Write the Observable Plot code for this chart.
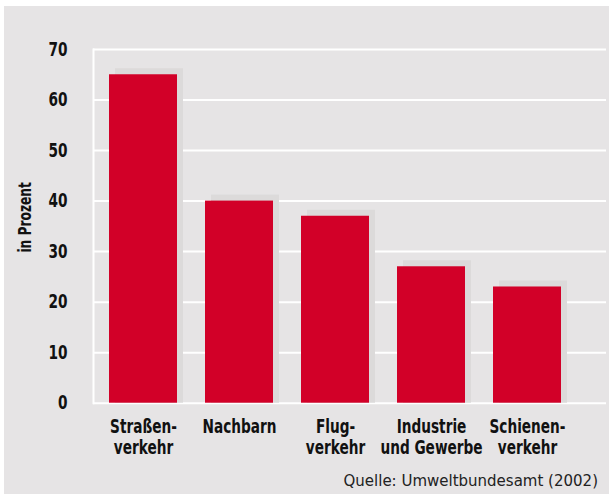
<!DOCTYPE html>
<html>
<head>
<meta charset="utf-8">
<script src="https://cdn.jsdelivr.net/npm/d3@7"></script>
<script src="https://cdn.jsdelivr.net/npm/@observablehq/plot@0.6"></script>
<style>
  body { margin: 0; background: #ffffff; }
  #panel { position: absolute; left: 4px; top: 6px; width: 605px; height: 488px; background: #e6e4e5; overflow: hidden; }
  #caption { position: absolute; right: 11px; top: 466px; font-family: "DejaVu Sans", sans-serif; font-size: 15px; color: #222; }
</style>
</head>
<body>
<div id="panel"><div id="chart"></div><div id="caption"></div></div>
<script>
const categories = ["Straßen-\nverkehr", "Nachbarn", "Flug-\nverkehr", "Industrie\nund Gewerbe", "Schienen-\nverkehr"];
const values = [65, 40, 37, 27, 23];
const yTicks = [0, 10, 20, 30, 40, 50, 60, 70];
const yLabel = "in Prozent";
const caption = "Quelle: Umweltbundesamt (2002)";

const data = categories.map((c, i) => ({category: c, value: values[i]}));
const font = "'Liberation Sans Narrow', 'DejaVu Sans Condensed', sans-serif";

const chart = Plot.plot({
  width: 605,
  height: 470,
  marginLeft: 89,
  marginRight: 3,
  marginTop: 43,
  marginBottom: 73.3,
  style: {background: "transparent", fontFamily: font, color: "#111"},
  x: {domain: categories, range: [75.5, 586.5], padding: 0.295, axis: null},
  y: {domain: [0, 70], axis: null},
  marks: [
    Plot.ruleY(yTicks, {stroke: "white", strokeWidth: 2}),
    Plot.frame({anchor: "left", stroke: "white", strokeWidth: 2}),
    Plot.barY(data, {x: "category", y: "value", fill: "#dcdada", dx: 6, dy: -6, insetBottom: -6}),
    Plot.barY(data, {x: "category", y: "value", fill: "#d20028"}),
    Plot.axisY({ticks: yTicks, tickSize: 0, tickPadding: 26, fontSize: 19, fontWeight: "bold", fill: "#111", label: null}),
    Plot.axisX({tickSize: 0, tickPadding: 15, fontSize: 19, fontWeight: "bold", fill: "#111", label: null, lineHeight: 1.1}),
    Plot.text([yLabel], {frameAnchor: "left", textAnchor: "middle", rotate: -90, dx: -68, dy: -9, fontSize: 17, fontWeight: "bold", fill: "#111"})
  ]
});
// condense the bold labels horizontally to mimic the narrow typeface
chart.querySelectorAll("text").forEach(t => {
  const tr = t.getAttribute("transform");
  if (tr) {
    t.setAttribute("transform", tr + " scale(0.8,1)");
  } else {
    const x = t.getAttribute("x") || 0, y = t.getAttribute("y") || 0;
    t.removeAttribute("x"); t.removeAttribute("y");
    t.setAttribute("transform", `translate(${x},${y}) scale(0.8,1)`);
  }
});
document.getElementById("chart").appendChild(chart);
document.getElementById("caption").textContent = caption;
</script>
</body>
</html>
